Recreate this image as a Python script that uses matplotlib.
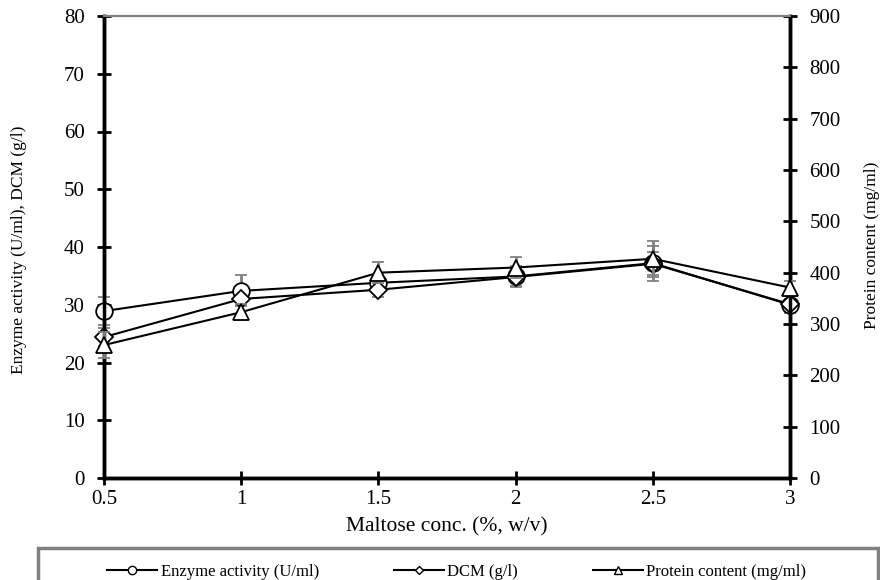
import matplotlib.pyplot as plt
from matplotlib.patches import Rectangle

plt.rcParams['font.family'] = ['Liberation Serif', 'DejaVu Serif']

maltose = [0.5, 1.0, 1.5, 2.0, 2.5, 3.0]
enzyme = [28.9, 32.4, 33.8, 34.9, 37.2, 30.0]
enzyme_err = [2.4, 2.7, 1.2, 1.8, 2.0, 1.0]
dcm = [24.4, 31.0, 32.6, 34.8, 37.1, 30.1]
dcm_err = [1.5, 1.0, 1.2, 1.5, 3.0, 1.5]
protein = [259, 323, 400, 410, 427, 371]
protein_err = [25, 15, 20, 20, 35, 12]

fig = plt.figure(figsize=(8.8, 5.8), dpi=100)
ax = fig.add_axes([104 / 880, 1 - 478 / 580, 686 / 880, 462 / 580])
ax2 = ax.twinx()

ebar = dict(ecolor='#808080', elinewidth=2, capsize=4, capthick=2, clip_on=False)
conts = []
conts.append(ax.errorbar(maltose, enzyme, yerr=enzyme_err, color='black', lw=1.5,
                         marker='o', ms=12, mfc='white', mec='black', mew=1.3, zorder=3, **ebar))
conts.append(ax.errorbar(maltose, dcm, yerr=dcm_err, color='black', lw=1.5,
                         marker='D', ms=9, mfc='white', mec='black', mew=1.3, zorder=3, **ebar))
conts.append(ax2.errorbar(maltose, protein, yerr=protein_err, color='black', lw=1.5,
                          marker='^', ms=12, mfc='white', mec='black', mew=1.3, zorder=3, **ebar))
for c in conts:
    for art in c.get_children():
        art.set_clip_on(False)

ax.set_xlim(0.5, 3.0)
ax.set_ylim(0, 80)
ax2.set_ylim(0, 900)
ax.set_xticks(maltose)
ax.set_xticklabels(['0.5', '1', '1.5', '2', '2.5', '3'])
ax.set_yticks(range(0, 81, 10))
ax2.set_yticks(range(0, 901, 100))

for a in (ax, ax2):
    for side in ('left', 'right', 'bottom'):
        a.spines[side].set_linewidth(2.5)
    a.spines['top'].set_color('#808080')
    a.spines['top'].set_linewidth(1.5)
    a.tick_params(direction='inout', length=10, width=2, labelsize=15, pad=9)
ax.tick_params(axis='x', pad=4)

ax.set_xlabel('Maltose conc. (%, w/v)', fontsize=15.5)
ax.xaxis.set_label_coords(0.5, -0.085)
fig.text(19 / 880, 1 - 250 / 580, 'Enzyme activity (U/ml), DCM (g/l)', rotation=90,
         ha='center', va='center', fontsize=12.5)
fig.text(872 / 880, 1 - 245 / 580, 'Protein content (mg/ml)', rotation=90,
         ha='center', va='center', fontsize=12.5)

# legend box at the bottom (cut by the figure edge)
fig.patches.append(Rectangle((38 / 880, -0.05), 840 / 880, 0.05 + 32 / 580,
                             transform=fig.transFigure, fill=False,
                             edgecolor='#808080', lw=2.5))
handles = [
    plt.Line2D([], [], color='black', lw=1.5, marker='o', ms=6, mfc='white', mec='black'),
    plt.Line2D([], [], color='black', lw=1.5, marker='D', ms=4.5, mfc='white', mec='black'),
    plt.Line2D([], [], color='black', lw=1.5, marker='^', ms=6, mfc='white', mec='black'),
]
fig.legend(handles, ['Enzyme activity (U/ml)', 'DCM (g/l)', 'Protein content (mg/ml)'],
           loc='center', bbox_to_anchor=(0.519, 1 - 572 / 580), ncol=3, frameon=False,
           fontsize=12, columnspacing=4.5, handlelength=3, handletextpad=0.2)

fig.savefig('out.png', dpi=100)
